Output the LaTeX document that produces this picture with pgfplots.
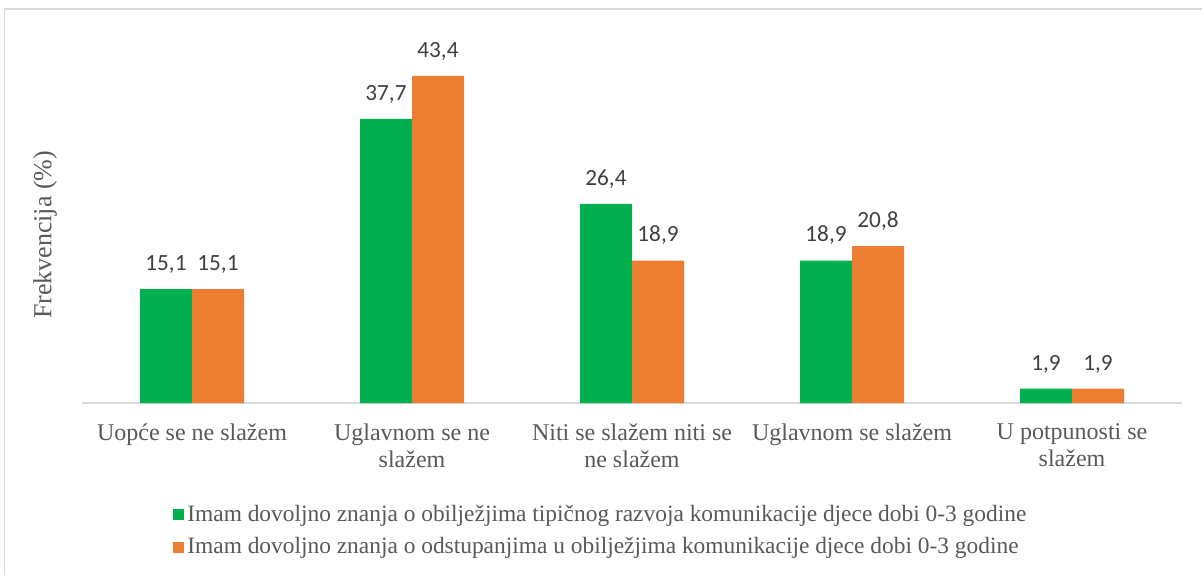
\documentclass[border=0pt]{standalone}
\usepackage{pgfplots}
\pgfplotsset{compat=1.18}
\usepackage{fontspec}
\setmainfont{Liberation Serif}
\newfontfamily\labfont{Carlito}
\definecolor{cgreen}{HTML}{00B050}
\definecolor{corange}{HTML}{ED7D31}
\definecolor{txtgray}{HTML}{595959}
\definecolor{lblgray}{HTML}{404040}
\definecolor{frame}{HTML}{D9D9D9}

\begin{document}
\begin{tikzpicture}
  % outer chart frame (only top and left edges are visible)
  \draw[frame, line width=0.6pt] (2.25pt,-287.5pt) -- (2.25pt,-4.5pt) -- (601pt,-4.5pt);
  \begin{axis}[
      at={(41pt,-201.5pt)}, anchor=south west,
      scale only axis,
      width=550pt, height=188.5pt,
      ybar=0pt, bar width=26pt,
      xmin=-0.5, xmax=4.5, ymin=0, ymax=50,
      axis x line*=bottom,
      axis y line*=left,
      y axis line style={draw=none},
      x axis line style={frame, line width=0.7pt},
      ytick=\empty,
      xtick={0,1,2,3,4},
      xticklabels={Uopće se ne slažem, Uglavnom se ne\\slažem, Niti se slažem niti se\\ne slažem, Uglavnom se slažem, U potpunosti se\\slažem},
      major tick length=0pt,
      xticklabel style={align=center, text=txtgray, font=\fontsize{12}{13.5}\selectfont, yshift=-7pt},
      ylabel={Frekvencija (\%)},
      ylabel style={at={(axis description cs:-0.0335,0.446)}, anchor=center, text=txtgray, font=\fontsize{13}{14}\selectfont},
      clip=false,
      nodes near coords,
      nodes near coords style={anchor=south, inner sep=0pt, yshift=7.6pt, text=lblgray, font=\labfont\fontsize{11.6}{14}\selectfont,
        /pgf/number format/.cd, use comma, fixed, fixed zerofill, precision=1, assume math mode=true},
      legend style={at={(axis description cs:0.0827,-0.262)}, anchor=north west, draw=none, inner sep=0pt,
        font=\fontsize{11.7}{14}\selectfont, text=txtgray, row sep=3.5pt,
        nodes={inner sep=1.5pt, anchor=west}},
      legend cell align=left,
      legend image code/.code={\fill[#1] (0pt,-2.75pt) rectangle (5.5pt,2.75pt);},
    ]
    \addplot[fill=cgreen, draw=none] coordinates {(0,15.1) (1,37.7) (2,26.4) (3,18.9) (4,1.9)};
    \addlegendentry{Imam dovoljno znanja o obilježjima tipičnog razvoja komunikacije djece dobi 0-3 godine}
    \addplot[fill=corange, draw=none] coordinates {(0,15.1) (1,43.4) (2,18.9) (3,20.8) (4,1.9)};
    \addlegendentry{Imam dovoljno znanja o odstupanjima u obilježjima komunikacije djece dobi 0-3 godine}
  \end{axis}
  \pgfresetboundingbox
  \useasboundingbox (0pt,0pt) rectangle (601pt,-287.5pt);
\end{tikzpicture}
\end{document}
